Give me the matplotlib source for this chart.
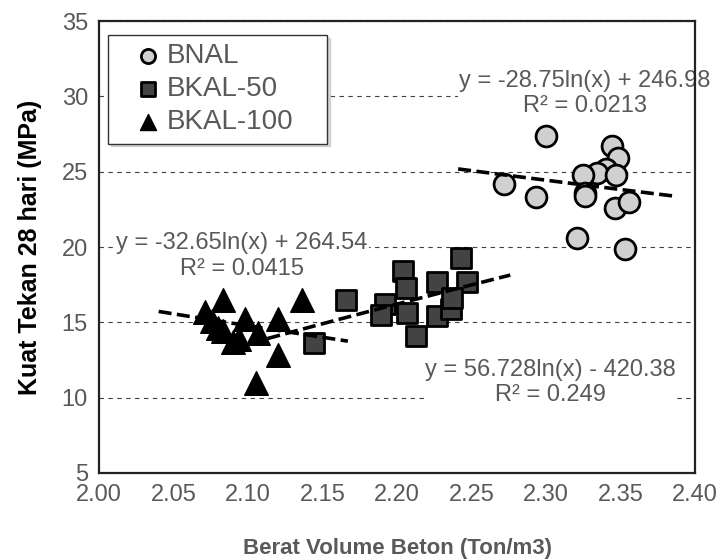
import numpy as np
import matplotlib
matplotlib.use("Agg")
from matplotlib import pyplot as plt

plt.rcParams['font.family'] = ['Liberation Sans', 'DejaVu Sans']

# BNAL (circles)
bnal_x = [2.300, 2.272, 2.293, 2.344, 2.348, 2.340, 2.334, 2.347, 2.325,
          2.326, 2.326, 2.346, 2.356, 2.321, 2.353]
bnal_y = [27.4, 24.2, 23.3, 26.7, 25.9, 25.2, 24.9, 24.8, 24.8,
          23.6, 23.4, 22.6, 23.0, 20.6, 19.9]

# BKAL-50 (squares)
bk50_x = [2.166, 2.204, 2.206, 2.192, 2.189, 2.207, 2.213, 2.227, 2.227,
          2.243, 2.247, 2.236, 2.237, 2.144]
bk50_y = [16.5, 18.4, 17.3, 16.2, 15.5, 15.6, 14.1, 17.7, 15.4,
          19.3, 17.7, 15.9, 16.6, 13.6]

# BKAL-100 (triangles)
bk100_x = [2.071, 2.083, 2.076, 2.080, 2.083, 2.090, 2.094, 2.098, 2.107,
           2.120, 2.136, 2.120, 2.105]
bk100_y = [15.7, 16.5, 15.1, 14.6, 14.4, 13.7, 13.9, 15.2, 14.3,
           15.2, 16.5, 12.8, 11.0]

# logarithmic trendlines as given on the chart (x in kg/m3) and their x ranges
trend_a = [-28.75, 56.728, -32.65]
trend_b = [246.98, -420.38, 264.54]
trend_rng = [[2.241, 2.385], [2.113, 2.276], [2.040, 2.167]]

eq_bnal = "y = -28.75ln(x) + 246.98\nR² = 0.0213"
eq_bk50 = "y = 56.728ln(x) - 420.38\nR² = 0.249"
eq_bk100 = "y = -32.65ln(x) + 264.54\nR² = 0.0415"

grey_txt = '#595959'

fig = plt.figure(figsize=(7.18, 5.6), dpi=100)
ax = fig.add_axes([0.138, 0.1554, 0.830, 0.807])

ax.set_xlim(2.0, 2.4)
ax.set_ylim(5, 35)
ticks = np.arange(2.0, 2.401, 0.05)
ax.set_xticks(ticks)
ax.set_xticklabels(['%.2f' % v for v in ticks])
ax.set_yticks([5, 10, 15, 20, 25, 30, 35])
ax.tick_params(length=0, labelsize=17, labelcolor=grey_txt, pad=8)
for s in ax.spines.values():
    s.set_linewidth(1.6)
    s.set_color('#222222')

ax.yaxis.grid(True, color='#404040', lw=0.8, linestyle=(0, (4, 4)), zorder=0)
ax.set_axisbelow(True)

ax.scatter(bnal_x, bnal_y, s=15**2, marker='o', facecolor='#d0d0d0',
           edgecolor='black', linewidth=2, zorder=3, label='BNAL')
ax.scatter(bk50_x, bk50_y, s=15**2, marker='s', facecolor='#434343',
           edgecolor='black', linewidth=2, zorder=3, label='BKAL-50')
ax.scatter(bk100_x, bk100_y, s=17**2, marker='^', facecolor='black',
           edgecolor='black', linewidth=1, zorder=3, label='BKAL-100')

for a, b, rng in zip(trend_a, trend_b, trend_rng):
    tx = np.linspace(rng[0], rng[1], 50)
    ax.plot(tx, a * np.log(tx * 1000) + b, color='black', lw=2.6,
            linestyle=(0, (3.6, 1.5)), zorder=4)

box = dict(facecolor='white', edgecolor='none', pad=1)
ax.text(2.326, 30.2, eq_bnal, ha='center', va='center', fontsize=17,
        color=grey_txt, bbox=box, zorder=2, linespacing=1.2)
ax.text(2.096, 19.4, eq_bk100, ha='center', va='center', fontsize=17,
        color=grey_txt, bbox=box, zorder=2, linespacing=1.2)
ax.text(2.303, 11.0, eq_bk50, ha='center', va='center', fontsize=17,
        color=grey_txt, bbox=box, zorder=2, linespacing=1.2)

leg = ax.legend(loc='upper left', bbox_to_anchor=(0.015, 0.969, 0.367, 0.0),
                mode='expand', borderaxespad=0, fontsize=20, markerscale=0.68,
                handletextpad=-0.5, handlelength=2.3, borderpad=0.3,
                labelspacing=0.25, fancybox=False,
                shadow={'color': '0.75', 'alpha': 0.6}, framealpha=1)
leg.get_frame().set_edgecolor('#333333')
for t in leg.get_texts():
    t.set_color(grey_txt)

ax.set_xlabel('Berat Volume Beton (Ton/m3)', fontsize=16, fontweight='bold',
              color=grey_txt, labelpad=23)
ax.set_ylabel('Kuat Tekan 28 hari (MPa)', fontsize=18, fontweight='bold',
              color='black', labelpad=14)

fig.savefig('out.png', dpi=100)
